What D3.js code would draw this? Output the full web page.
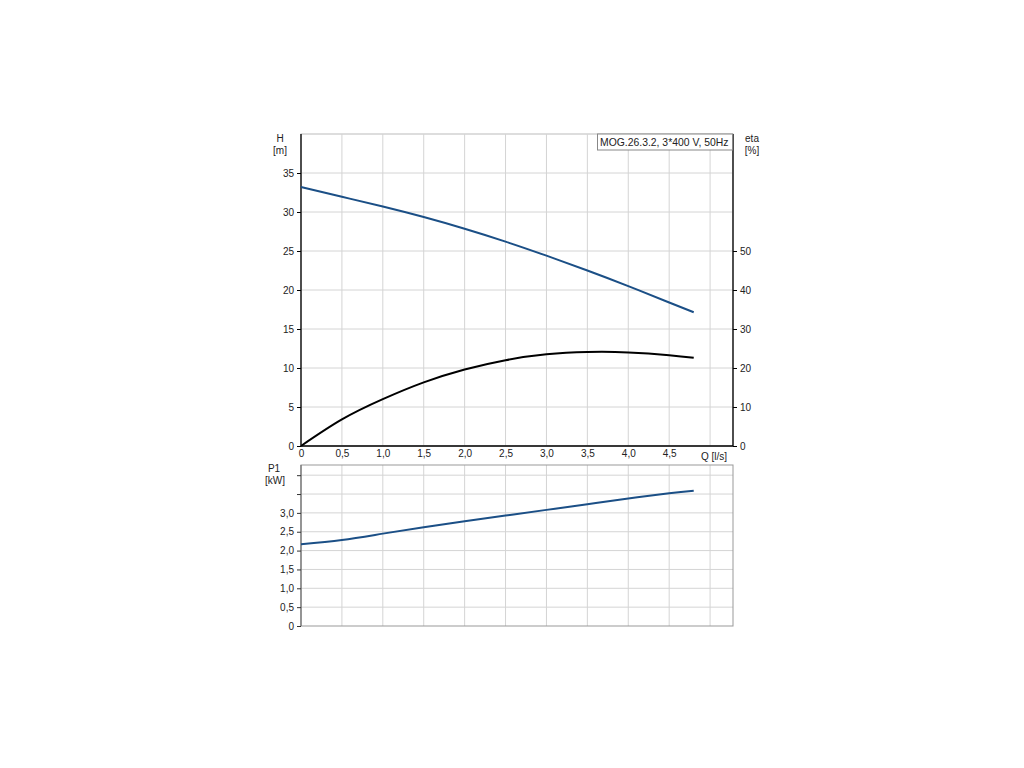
<!DOCTYPE html>
<html><head><meta charset="utf-8">
<script src="https://cdn.jsdelivr.net/npm/d3@7"></script>
<style>body{margin:0;background:#fff}svg{display:block}text{font-family:"Liberation Sans",Arial,sans-serif;font-size:10px;fill:#222}</style>
</head><body><svg id="c" width="1024" height="768"></svg>
<script>
const flow = [0, 0.5, 1.0, 1.5, 2.0, 2.5, 3.0, 3.5, 4.0, 4.5, 4.8];
const head = [33.2, 31.95, 30.7, 29.35, 27.85, 26.2, 24.4, 22.5, 20.5, 18.4, 17.15];
const eta = [0, 6.8, 12.0, 16.3, 19.6, 22.0, 23.5, 24.1, 24.0, 23.3, 22.6];
const power = [2.17, 2.28, 2.45, 2.62, 2.78, 2.93, 3.08, 3.23, 3.38, 3.52, 3.59];
const qTicks = [0, 0.5, 1.0, 1.5, 2.0, 2.5, 3.0, 3.5, 4.0, 4.5];
const hTicks = [0, 5, 10, 15, 20, 25, 30, 35];
const etaTicks = [0, 10, 20, 30, 40, 50];
const pTicks = [0, 0.5, 1.0, 1.5, 2.0, 2.5, 3.0];
const pTicksUnlabeled = [3.5, 4.0];
const title = "MOG.26.3.2, 3*400 V, 50Hz";

const svg = d3.select("#c");
const L = 301, R = 733;
const x = d3.scaleLinear().domain([0, 5.28]).range([L, R]);
const yH = d3.scaleLinear().domain([0, 40]).range([446, 134]);
const yE = d3.scaleLinear().domain([0, 80]).range([446, 134]);
const yP = d3.scaleLinear().domain([0, 4.27]).range([626, 465]);
const fmt = d => d3.format(".1f")(d).replace(".", ",");
const grid = "#d4d4d4";

// top plot grid
const g1 = svg.append("g");
g1.append("rect").attr("x", L).attr("y", 134).attr("width", R - L).attr("height", 312).attr("fill", "none").attr("stroke", "#bbb");
const vg = d3.range(0.5, 5.01, 0.5);
g1.selectAll(".vg").data(vg).join("line").attr("x1", d => x(d)).attr("x2", d => x(d)).attr("y1", 134).attr("y2", 446).attr("stroke", grid);
g1.selectAll(".hg").data(d3.range(5, 40, 5)).join("line").attr("x1", L).attr("x2", R).attr("y1", d => yH(d)).attr("y2", d => yH(d)).attr("stroke", grid);

// bottom plot grid
const g2 = svg.append("g");
g2.selectAll(".vg").data(vg).join("line").attr("x1", d => x(d)).attr("x2", d => x(d)).attr("y1", 465).attr("y2", 626).attr("stroke", grid);
g2.selectAll(".hg").data(pTicks.concat(pTicksUnlabeled).filter(d => d > 0)).join("line").attr("x1", L).attr("x2", R).attr("y1", d => yP(d)).attr("y2", d => yP(d)).attr("stroke", grid);
g2.append("rect").attr("x", L).attr("y", 465).attr("width", R - L).attr("height", 161).attr("fill", "none").attr("stroke", "#999");

// axes top
const axL = svg.append("g").attr("transform", `translate(${L},0)`).call(d3.axisLeft(yH).tickValues(hTicks).tickSize(4).tickPadding(3).tickFormat(d3.format("d")));
const axR = svg.append("g").attr("transform", `translate(${R},0)`).call(d3.axisRight(yE).tickValues(etaTicks).tickSize(4).tickPadding(3).tickFormat(d3.format("d")));
const axB = svg.append("g").attr("transform", `translate(0,446)`).call(d3.axisBottom(x).tickValues(qTicks).tickSize(0).tickPadding(4).tickFormat(d => d === 0 ? "0" : fmt(d)));
[axL, axR, axB].forEach(a => { a.select(".domain").attr("stroke", "#000").attr("stroke-width", 1.3); a.selectAll("line").attr("stroke", "#000"); a.selectAll("text").attr("fill", "#222").style("font-size", "10px").attr("font-family", null); });
axL.select(".domain").attr("d", `M0,134V446`);
axR.select(".domain").attr("d", `M0,134V446`);
axB.select(".domain").attr("d", `M${L},0H${R}`);

// axes bottom
const axP = svg.append("g").attr("transform", `translate(${L},0)`).call(d3.axisLeft(yP).tickValues(pTicks.concat(pTicksUnlabeled)).tickSize(4).tickPadding(3).tickFormat(d => pTicksUnlabeled.includes(d) ? "" : (d === 0 ? "0" : fmt(d))));
axP.select(".domain").attr("d", "M0,465V626").attr("stroke", "#777").attr("stroke-width", 1.3);
axP.selectAll("line").attr("stroke", "#333");
axP.selectAll("text").attr("fill", "#222").style("font-size", "10px").attr("font-family", null);

// curves
const mk = y => d3.line().x((d, i) => x(flow[i])).y(d => y(d)).curve(d3.curveNatural);
svg.append("path").attr("d", mk(yH)(head)).attr("fill", "none").attr("stroke", "#1b4f86").attr("stroke-width", 2);
svg.append("path").attr("d", mk(yE)(eta)).attr("fill", "none").attr("stroke", "#000").attr("stroke-width", 2);
svg.append("path").attr("d", mk(yP)(power)).attr("fill", "none").attr("stroke", "#1b4f86").attr("stroke-width", 2);

// labels
const lab = (t, px, py, a) => svg.append("text").attr("x", px).attr("y", py).attr("text-anchor", a || "middle").text(t);
lab("H", 280, 142); lab("[m]", 280, 154);
lab("eta", 752, 142); lab("[%]", 752, 154);
lab("P1", 274, 472); lab("[kW]", 275, 484);
lab("Q [l/s]", 714, 460);

// title box
svg.append("rect").attr("x", 597.5).attr("y", 134).attr("width", 135).attr("height", 16).attr("fill", "#fff").attr("stroke", "#888");
lab(title, 600, 146, "start").style("font-size", "10.4px");
</script></body></html>
